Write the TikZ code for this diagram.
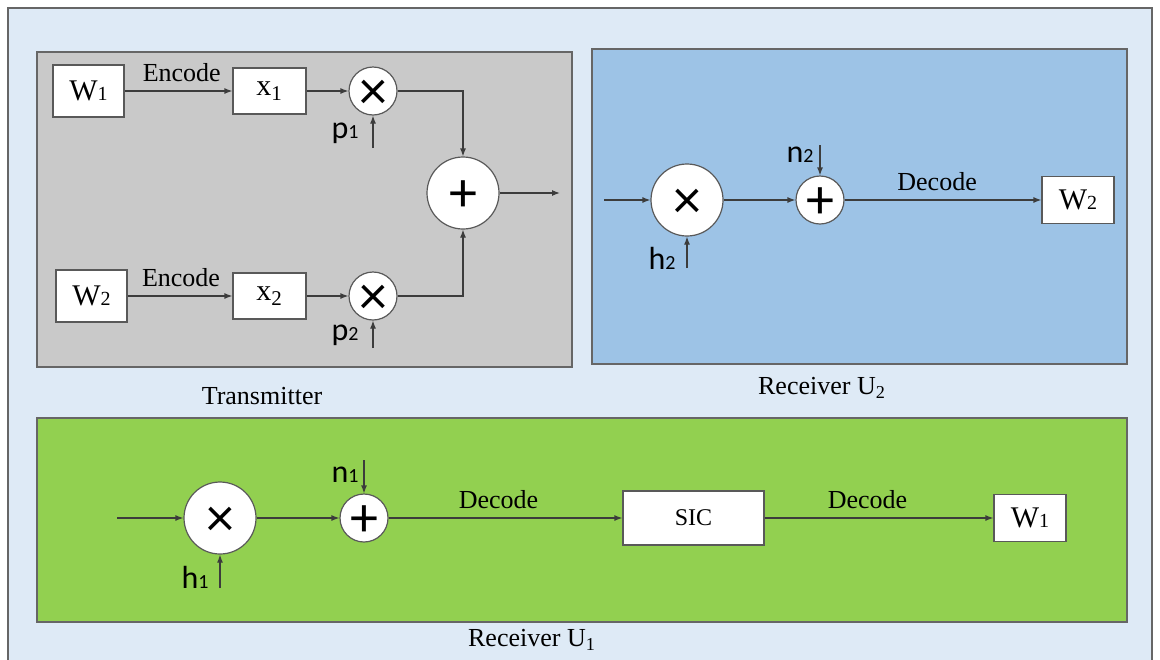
\documentclass[tikz,border=0pt]{standalone}
\usepackage{fontspec}
\setmainfont{Liberation Serif}
\newfontfamily\lblfont{Carlito}
\usetikzlibrary{arrows.meta,positioning,calc}
\definecolor{pagebg}{RGB}{222,234,246}
\definecolor{txgray}{RGB}{201,201,201}
\definecolor{rxblue}{RGB}{157,195,230}
\definecolor{rxgreen}{RGB}{146,208,80}
\definecolor{wire}{RGB}{60,60,60}
\tikzstyle{panel}=[draw=black!60,line width=0.6pt]
\tikzstyle{block}=[draw=black!65,fill=white,line width=0.6pt,inner sep=0pt,font=\fontsize{15}{17}\selectfont]
\tikzstyle{wbox}=[block,minimum width=35.5pt,minimum height=26pt]
\tikzstyle{obox}=[block,minimum width=36pt,minimum height=23.5pt]
\tikzstyle{xbox}=[block,minimum width=36.5pt,minimum height=23pt]
\tikzstyle{mixer}=[draw=black!65,fill=white,circle,line width=0.6pt,inner sep=0pt,minimum size=24pt,font=\lblfont\fontsize{28}{28}\selectfont]
\tikzstyle{bigmixer}=[mixer,minimum size=36pt]
\tikzstyle{lbl}=[inner sep=0pt,font=\lblfont\fontsize{16}{16}\selectfont]
\tikzstyle{sig}=[draw=wire,line width=0.6pt,-{Latex[length=4pt,width=3pt]}]
\newcommand{\idx}[2]{#1{\fontsize{10}{10}\selectfont #2}}
\newcommand{\mul}{\raisebox{-2pt}[\height][\depth]{×}}
\newcommand{\add}{\raisebox{-1.5pt}[\height][\depth]{+}}

\begin{document}
\begin{tikzpicture}[x=0.5pt,y=-0.5pt,font=\fontsize{13}{15}\selectfont]
  \useasboundingbox (0,0) rectangle (1160,659);
  \fill[white] (0,0) rectangle (1160,659);
  \draw[panel,fill=pagebg] (8,8) rectangle (1152,680);
  % panels
  \draw[panel,fill=txgray] (37,52) rectangle (572,367);
  \draw[panel,fill=rxblue] (592,49) rectangle (1127,364);
  \draw[panel,fill=rxgreen] (37,418) rectangle (1127,622);
  \node (txname) at (262,396) {Transmitter};
  \node (rx2name) at (822,388) {Receiver U\textsubscript{2}};
  \node (rx1name) at (532,640) {Receiver U\textsubscript{1}};

  % transmitter
  \node[wbox] (w1) at (88.5,91) {\idx{W}{1}};
  \node[xbox] (x1) at (269.5,91) {x\textsubscript{1}};
  \node[mixer] (m1) at (373,91) {\mul};
  \coordinate (p1in) at (373,148);
  \node[lbl] (p1) at (345,133) {\idx{p}{1}};
  \node[wbox] (w2) at (91.5,296) {\idx{W}{2}};
  \node[xbox] (x2) at (269.5,296) {x\textsubscript{2}};
  \node[mixer] (m2) at (373,296) {\mul};
  \coordinate (p2in) at (373,348);
  \node[lbl] (p2) at (345,335) {\idx{p}{2}};
  \node[bigmixer] (sum) at (463,193) {\add};
  \coordinate (txout) at (560,193);

  \draw[sig] (w1) -- node[above=1pt,pos=0.53] {Encode} (x1);
  \draw[sig] (x1) -- (m1);
  \draw[sig] (p1in) -- (m1);
  \draw[sig] (w2) -- node[above=1pt,pos=0.51] {Encode} (x2);
  \draw[sig] (x2) -- (m2);
  \draw[sig] (p2in) -- (m2);
  \draw[sig] (m1) -| (sum);
  \draw[sig] (m2) -| (sum);
  \draw[sig] (sum) -- (txout);

  % receiver U2
  \coordinate (r2in) at (604,200);
  \node[bigmixer] (m3) at (687,200) {\mul};
  \coordinate (h2in) at (687,268);
  \node[lbl] (h2) at (662,258) {\idx{h}{2}};
  \node[mixer] (s2) at (820,200) {\add};
  \coordinate (n2in) at (820,145);
  \node[lbl] (n2) at (800,155) {\idx{n}{2}};
  \node[obox] (w2out) at (1078,200) {\idx{W}{2}};

  \draw[sig] (r2in) -- (m3);
  \draw[sig] (h2in) -- (m3);
  \draw[sig] (m3) -- (s2);
  \draw[sig] (n2in) -- (s2);
  \draw[sig] (s2) -- node[above=1pt,pos=0.47] {Decode} (w2out);

  % receiver U1
  \coordinate (r1in) at (117,518);
  \node[bigmixer] (m4) at (220,518) {\mul};
  \coordinate (h1in) at (220,588);
  \node[lbl] (h1) at (195,577) {\idx{h}{1}};
  \node[mixer] (s1) at (364,518) {\add};
  \coordinate (n1in) at (364,460);
  \node[lbl] (n1) at (345,475) {\idx{n}{1}};
  \node[block,minimum width=70.5pt,minimum height=27pt,font=\fontsize{12}{14}\selectfont] (sic) at (693.5,518) {SIC};
  \node[obox] (w1out) at (1030,518) {\idx{W}{1}};

  \draw[sig] (r1in) -- (m4);
  \draw[sig] (h1in) -- (m4);
  \draw[sig] (m4) -- (s1);
  \draw[sig] (n1in) -- (s1);
  \draw[sig] (s1) -- node[above=1pt,pos=0.47] {Decode} (sic);
  \draw[sig] (sic) -- node[above=1pt,pos=0.45] {Decode} (w1out);
\end{tikzpicture}
\end{document}
